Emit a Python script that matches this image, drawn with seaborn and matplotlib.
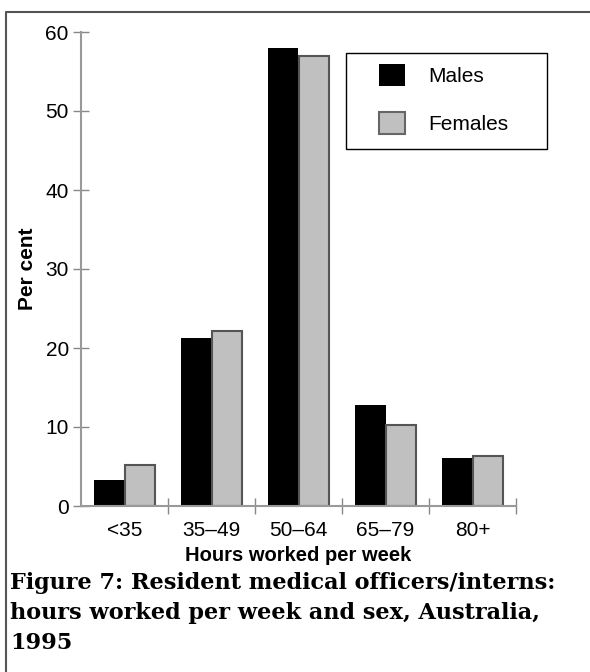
import matplotlib
matplotlib.use("Agg")
import matplotlib.pyplot as plt
from matplotlib.lines import Line2D
from matplotlib.patches import Rectangle, Patch
import pandas as pd
import seaborn as sns

# data
hours = ["<35", "35–49", "50–64", "65–79", "80+"]
males = [3.3, 21.3, 58.0, 12.8, 6.1]
females = [5.2, 22.2, 57.0, 10.3, 6.3]

df = pd.DataFrame({
    "hours": hours * 2,
    "sex": ["Males"] * len(hours) + ["Females"] * len(hours),
    "pct": males + females,
})

sns.set_theme(style="white")
plt.rcParams["font.family"] = ["Liberation Sans", "DejaVu Sans"]
plt.rcParams["text.color"] = "black"
plt.rcParams["axes.labelcolor"] = "black"

fig = plt.figure(figsize=(5.9, 6.72), dpi=100)
ax = fig.add_axes([81 / 590, 1 - 506 / 672, (516 - 81) / 590, (506 - 32) / 672])

sns.barplot(data=df, x="hours", y="pct", hue="sex", order=hours,
            hue_order=["Males", "Females"],
            palette={"Males": "black", "Females": "#c0c0c0"},
            width=0.7, saturation=1, legend=False, ax=ax)

# females get a dark grey outline
for bar in ax.containers[1]:
    bar.set_edgecolor("#555555")
    bar.set_linewidth(1.5)
for bar in ax.containers[0]:
    bar.set_linewidth(0)

ax.set_xlim(-0.5, 4.5)
ax.set_ylim(0, 60)
ax.set_yticks([0, 10, 20, 30, 40, 50, 60])
ax.set_xticks(range(len(hours)))
ax.set_xticks([0.5, 1.5, 2.5, 3.5, 4.5], minor=True)

sns.despine(ax=ax)
for side in ["left", "bottom"]:
    ax.spines[side].set_color("#999999")
    ax.spines[side].set_linewidth(1.5)

ax.tick_params(axis="y", direction="inout", length=11.5, width=1, color="#888888",
               labelsize=15, pad=3, left=True, labelcolor="black")
ax.tick_params(axis="x", which="major", length=0, labelsize=15, pad=11, labelcolor="black")
ax.tick_params(axis="x", which="minor", direction="inout", length=11.5, width=1,
               color="#888888", bottom=True)

ax.set_xlabel("Hours worked per week", fontsize=14.5, fontweight="bold", labelpad=4)
ax.set_ylabel("Per cent", fontsize=15, fontweight="bold", labelpad=6)

# legend box
handles = [Patch(facecolor="black", edgecolor="black", linewidth=0, label="Males"),
           Patch(facecolor="#c0c0c0", edgecolor="#666666", linewidth=1.5, label="Females")]
fig.legend(handles=handles, loc="upper left",
           bbox_to_anchor=(379 / 590, 1 - 64 / 672), frameon=False,
           fontsize=15, handlelength=1.25, handleheight=1.25,
           handletextpad=1.1, labelspacing=1.25, borderpad=0, borderaxespad=0)
fig.add_artist(Rectangle((346 / 590, 1 - 149 / 672), (547 - 346) / 590, (149 - 53) / 672,
                         transform=fig.transFigure, fill=False, edgecolor="black",
                         linewidth=1))

# outer frame (top and left only)
fig.add_artist(Line2D([6 / 590, 6 / 590, 1], [0, 1 - 12 / 672, 1 - 12 / 672],
                      transform=fig.transFigure, color="#555555", linewidth=1.5))

caption = ["Figure 7: Resident medical officers/interns:",
           "hours worked per week and sex, Australia,",
           "1995"]
for i, line in enumerate(caption):
    fig.text(10 / 590, 1 - (589 + 30 * i) / 672, line, family="DejaVu Serif",
             fontweight="bold", fontsize=16.1, va="baseline", ha="left")

fig.savefig("out.png", dpi=100)
